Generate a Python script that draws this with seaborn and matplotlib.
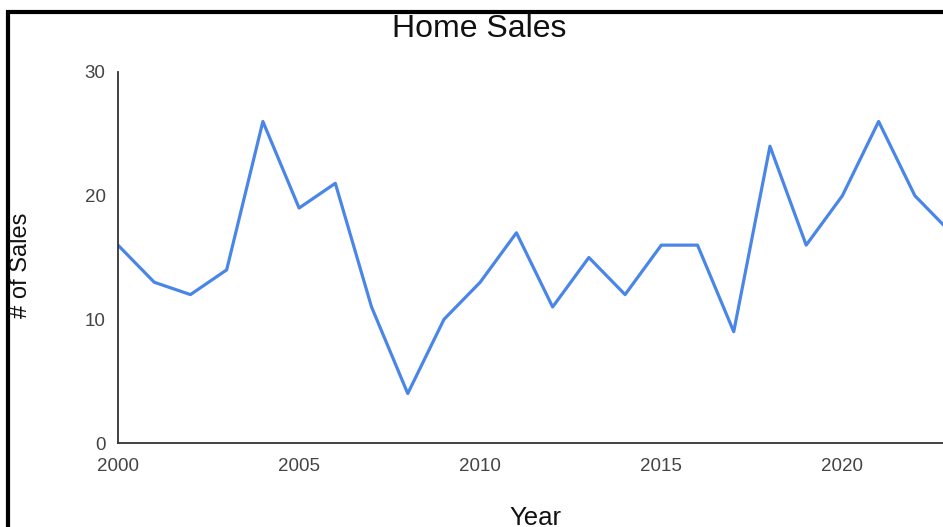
import matplotlib
matplotlib.use("Agg")
import matplotlib.pyplot as plt
from matplotlib.patches import Rectangle
import pandas as pd
import seaborn as sns

years = [2000, 2001, 2002, 2003, 2004, 2005, 2006, 2007, 2008, 2009, 2010, 2011,
         2012, 2013, 2014, 2015, 2016, 2017, 2018, 2019, 2020, 2021, 2022, 2023]
sales = [16, 13, 12, 14, 26, 19, 21, 11, 4, 10, 13, 17,
         11, 15, 12, 16, 16, 9, 24, 16, 20, 26, 20, 17]
x_ticks = [2000, 2005, 2010, 2015, 2020]
y_ticks = [0, 10, 20, 30]

sns.set_style("white")
plt.rcParams["font.family"] = ["Liberation Sans", "DejaVu Sans"]

W, H = 943, 527
fig = plt.figure(figsize=(W / 100, H / 100), dpi=100)
ax = fig.add_axes([118 / W, (H - 443) / H, (W - 118) / W, (443 - 72) / H])

df = pd.DataFrame({"Year": years, "Sales": sales})
sns.lineplot(data=df, x="Year", y="Sales", ax=ax, color="#4a86e8", linewidth=2.3)

ax.set_xlim(2000, 2000 + (W - 118) / 36.22)
ax.set_ylim(0, 30)
ax.set_xticks(x_ticks)
ax.set_yticks(y_ticks)
ax.set_xticklabels([str(v) for v in x_ticks])
ax.tick_params(axis="both", length=0, labelsize=13.5, colors="#444444")
ax.tick_params(axis="y", pad=9)
ax.tick_params(axis="x", pad=11)
ax.set_xlabel("")
ax.set_ylabel("")

for side in ["top", "right"]:
    ax.spines[side].set_visible(False)
for side in ["left", "bottom"]:
    ax.spines[side].set_color("#333333")
    ax.spines[side].set_linewidth(1.3)

fig.text(479 / W, 1 - 37 / H, "Home Sales", ha="center", va="baseline",
         fontsize=23, color="#111111")
fig.text(535 / W, 1 - 525 / H, "Year", ha="center", va="baseline",
         fontsize=18.5, color="#111111")
fig.text(21 / W, 1 - 265 / H, "# of Sales", ha="center", va="center",
         rotation=90, fontsize=17, color="#111111")

# outer frame around the chart
fig.add_artist(Rectangle((8 / W, -0.2), 2.0, 1.2 - 12 / H,
                         transform=fig.transFigure, fill=False,
                         edgecolor="black", linewidth=3.0, clip_on=False))

fig.savefig("out.png", dpi=100)
